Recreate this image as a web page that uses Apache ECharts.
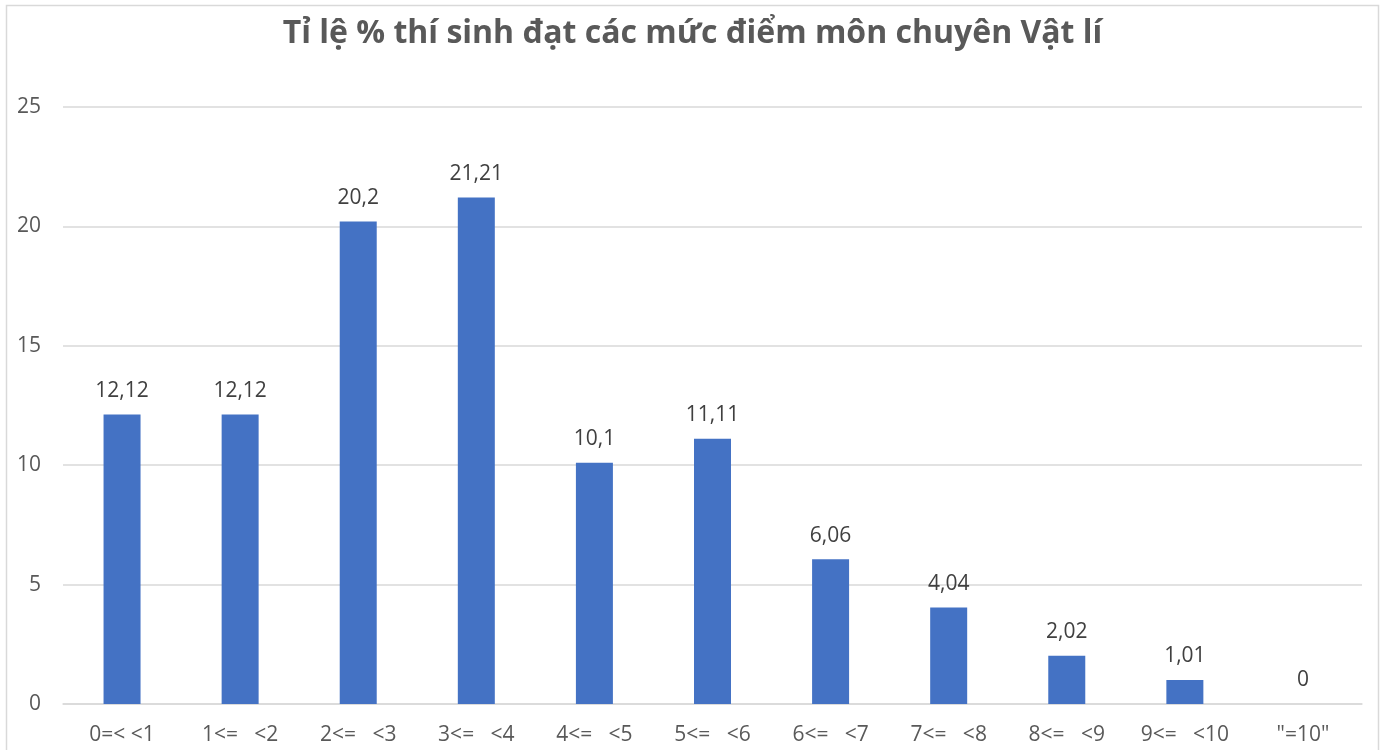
<!DOCTYPE html>
<html><head><meta charset="utf-8">
<script src="https://cdn.jsdelivr.net/npm/echarts@6/dist/echarts.min.js"></script>
<style>html,body{margin:0;padding:0;background:#fff}#c{width:1385px;height:750px}</style>
</head><body><div id="c"></div>
<script>
const titleText = 'Tỉ lệ % thí sinh đạt các mức điểm môn chuyên Vật lí';
const categories = ['0=< <1', '1<=   <2', '2<=   <3', '3<=   <4', '4<=   <5', '5<=   <6', '6<=   <7', '7<=   <8', '8<=   <9', '9<=   <10', '"=10"'];
const values = [12.12, 12.12, 20.2, 21.21, 10.1, 11.11, 6.06, 4.04, 2.02, 1.01, 0];
const yTicks = [0, 5, 10, 15, 20, 25];

const chart = echarts.init(document.getElementById('c'), null, {renderer: 'canvas'});
const font = '"Open Sans", "Noto Sans", sans-serif';
chart.setOption({
  animation: false,
  textStyle: {fontFamily: font},
  graphic: [{type: 'rect', shape: {x: 6.5, y: 5.5, width: 1372, height: 760}, style: {fill: 'none', stroke: '#d9d9d9', lineWidth: 1.5}, z: -1}],
  title: {text: titleText, left: 'center', top: 13, textStyle: {fontFamily: font, fontSize: 32, fontWeight: 'bold', color: '#595959'}},
  grid: {left: 63, right: 23, top: 107, bottom: 46},
  xAxis: {type: 'category', data: categories,
    axisLine: {lineStyle: {color: '#d9d9d9', width: 1.5}}, axisTick: {show: false},
    axisLabel: {color: '#595959', fontSize: 21, margin: 21, interval: 0, fontFamily: font}},
  yAxis: {type: 'value', min: yTicks[0], max: yTicks[yTicks.length - 1], interval: 5,
    axisLine: {show: false}, axisTick: {show: false},
    splitLine: {lineStyle: {color: '#d9d9d9', width: 1.5}},
    axisLabel: {color: '#595959', fontSize: 21, margin: 22, fontFamily: font}},
  series: [{type: 'bar', data: values, barWidth: 37, itemStyle: {color: '#4472c4'},
    label: {show: true, position: 'top', distance: 13, color: '#404040', fontSize: 21, fontFamily: font,
      formatter: p => String(p.value).replace('.', ',')}}]
});
</script></body></html>
